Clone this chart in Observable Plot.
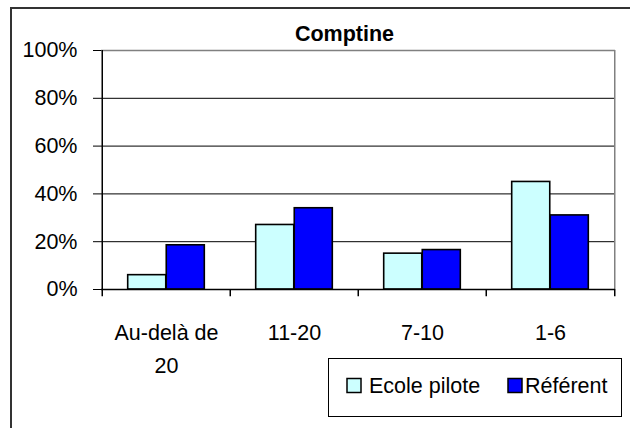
<!DOCTYPE html>
<html><head><meta charset="utf-8">
<script src="https://cdn.jsdelivr.net/npm/d3@7"></script>
<script src="https://cdn.jsdelivr.net/npm/@observablehq/plot@0.6"></script>
<style>html,body{margin:0;padding:0;background:#fff} svg{display:block}</style>
</head><body><div id="chart"></div>
<script>
const title = "Comptine";
const categories = ["Au-delà de\n20", "11-20", "7-10", "1-6"];
const seriesNames = ["Ecole pilote", "Référent"];
const ecolePilote = [0.06, 0.27, 0.15, 0.45];
const referent = [0.185, 0.34, 0.165, 0.31];
const yTicks = [0, 0.2, 0.4, 0.6, 0.8, 1];
const colors = ["#CCFFFF", "#0000FF"];

const data = categories.flatMap((c, i) => [
  {category: c, series: seriesNames[0], value: ecolePilote[i]},
  {category: c, series: seriesNames[1], value: referent[i]}
]);

const W = 630, H = 428, mL = 101, mR = 15, mT = 50, mB = 139;
const bw = (W - mL - mR) / categories.length;
const font = "'Liberation Sans', Arial, sans-serif";
const fs = 21.5;
const last = categories[categories.length - 1];

const plot = Plot.plot({
  width: W, height: H,
  marginLeft: mL, marginRight: mR, marginTop: mT, marginBottom: mB,
  style: {fontFamily: font, fontSize: fs + "px", color: "#000", background: "#fff", overflow: "visible"},
  x: {domain: categories, padding: 0},
  y: {domain: [0, 1]},
  color: {domain: seriesNames, range: colors},
  marks: [
    Plot.ruleY(yTicks.filter(d => d > 0 && d < 1), {stroke: "#000", strokeWidth: 1}),
    Plot.ruleY([1], {stroke: "#808080", strokeWidth: 1.5}),
    Plot.ruleX([last], {x: d => d, dx: bw / 2, y1: 0, y2: 1, stroke: "#808080", strokeWidth: 1.5}),
    Plot.barY(data.filter(d => d.series === seriesNames[0]), {
      x: "category", y: "value", fill: "series", stroke: "#000", strokeWidth: 1.6,
      insetLeft: 0.2 * bw, insetRight: 0.5 * bw
    }),
    Plot.barY(data.filter(d => d.series === seriesNames[1]), {
      x: "category", y: "value", fill: "series", stroke: "#000", strokeWidth: 1.6,
      insetLeft: 0.5 * bw, insetRight: 0.2 * bw
    }),
    Plot.ruleY([0], {stroke: "#000", strokeWidth: 1.5}),
    Plot.ruleX([categories[0]], {x: d => d, dx: -bw / 2, y1: 0, y2: 1, stroke: "#000", strokeWidth: 1.5}),
    Plot.ruleX(categories, {x: d => d, dx: -bw / 2, y1: 0, y2: -0.03, stroke: "#000", strokeWidth: 1.5}),
    Plot.ruleX([last], {x: d => d, dx: bw / 2, y1: 0, y2: -0.03, stroke: "#000", strokeWidth: 1.5}),
    Plot.axisY(yTicks, {tickFormat: d3.format(".0%"), tickSize: 8, tickPadding: 16, label: null, fontSize: fs}),
    Plot.axisX({tickSize: 0, tickPadding: 28, lineHeight: 1.5, label: null, fontSize: fs}),
    Plot.text([title], {frameAnchor: "top", dx: -14, dy: -9.5, lineAnchor: "bottom", fontWeight: "bold", fontSize: 21.5})
  ]
});

const svg = d3.select(plot);
// outer chart-area frame (top and left edges visible)
svg.append("path").attr("d", "M11,428V8H630").attr("fill", "none").attr("stroke", "#333").attr("stroke-width", 2);
// legend
const lg = svg.append("g").attr("font-family", font).attr("font-size", fs).attr("text-anchor", "start");
lg.append("rect").attr("x", 328.5).attr("y", 358.5).attr("width", 293).attr("height", 58)
  .attr("fill", "#fff").attr("stroke", "#000").attr("stroke-width", 1);
const items = [{x: 347, tx: 369}, {x: 508, tx: 525}];
seriesNames.forEach((s, i) => {
  lg.append("rect").attr("x", items[i].x).attr("y", 378.5).attr("width", 14).attr("height", 14)
    .attr("fill", plot.scale("color").apply(s)).attr("stroke", "#000").attr("stroke-width", 1.5);
  lg.append("text").attr("x", items[i].tx).attr("y", 393).attr("fill", "#000")
    .attr("text-anchor", "start").text(s);
});
document.getElementById("chart").appendChild(plot);
</script>
</body></html>
